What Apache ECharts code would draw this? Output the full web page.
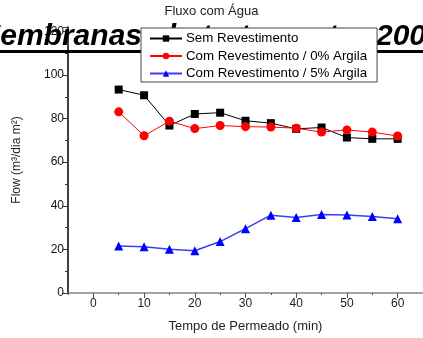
<!DOCTYPE html>
<html><head><meta charset="utf-8">
<script src="https://cdn.jsdelivr.net/npm/echarts@6/dist/echarts.min.js"></script>
<style>html,body{margin:0;padding:0;background:#fff}#c{width:423px;height:338px}</style>
</head><body><div id="c"></div>
<script>
const times = [5, 10, 15, 20, 25, 30, 35, 40, 45, 50, 55, 60];
const semRevestimento = [93.3, 90.7, 76.8, 82.1, 82.7, 79.0, 77.9, 75.3, 75.9, 71.3, 70.7, 70.7];
const comRev0 = [83.1, 72.1, 78.8, 75.4, 76.8, 76.3, 76.1, 75.6, 73.8, 74.8, 73.8, 72.0];
const comRev5 = [21.5, 21.2, 20.1, 19.4, 23.6, 29.5, 35.7, 34.6, 36.0, 35.8, 35.1, 34.0];
const xMajorTicks = [0, 10, 20, 30, 40, 50, 60];
const xMinorTicks = [-5, 5, 15, 25, 35, 45, 55, 65];
const seriesNames = ['Sem Revestimento', 'Com Revestimento / 0% Argila', 'Com Revestimento / 5% Argila'];

const font = 'Liberation Sans, Arial, sans-serif';
const bigFont = 'italic bold 30px Liberation Sans, Arial';
const pair = (arr) => times.map((t, i) => [t, arr[i]]);
const chart = echarts.init(document.getElementById('c'));
chart.setOption({
  animation: false,
  textStyle: { fontFamily: font },
  title: { text: 'Fluxo com Água', left: 'center', top: 5, textStyle: { fontSize: 13, fontWeight: 'normal', color: '#222', fontFamily: font }, padding: 0, itemGap: 0 },
  graphic: [
    { type: 'text', z: 3, x: 142, y: 37, style: { text: 'Membranas', align: 'right', verticalAlign: 'middle', font: bigFont, fill: '#000' } },
    { type: 'text', z: 3, x: 257, y: 37, style: { text: 'de tratamento', align: 'center', verticalAlign: 'middle', font: bigFont, fill: '#000' } },
    { type: 'text', z: 3, x: 376, y: 37, style: { text: '2008', align: 'left', verticalAlign: 'middle', font: bigFont, fill: '#000' } },
    { type: 'rect', z: 3, shape: { x: 0, y: 50, width: 423, height: 3 }, style: { fill: '#000' } }
  ],
  legend: {
    z: 10,
    left: 141, top: 28,
    orient: 'vertical',
    backgroundColor: '#fff',
    borderColor: '#444', borderWidth: 1, borderRadius: 0,
    padding: [4, 10, 2, 8],
    itemGap: 4.5,
    itemWidth: 32, itemHeight: 8,
    textStyle: { fontSize: 13.3, color: '#000', fontFamily: font, padding: [0, 0, 0, -1] },
    data: seriesNames
  },
  grid: { left: 68, top: 27, width: 358, bottom: 42 },
  xAxis: [{
    type: 'value', min: -5, max: 65,
    name: 'Tempo de Permeado (min)', nameLocation: 'middle', nameGap: 27,
    nameTextStyle: { fontSize: 13, color: '#222', fontFamily: font },
    axisLine: { onZero: false, lineStyle: { color: '#888', width: 1.5 } },
    axisTick: { customValues: xMajorTicks, length: 5, lineStyle: { color: '#555' } },
    axisLabel: { customValues: xMajorTicks, fontSize: 12, color: '#222', margin: 5, fontFamily: font },
    splitLine: { show: false }
  }, {
    type: 'value', min: -5, max: 65, position: 'bottom',
    axisLine: { show: false, onZero: false },
    axisTick: { customValues: xMinorTicks, length: 2, lineStyle: { color: '#555' } },
    axisLabel: { show: false },
    splitLine: { show: false }
  }],
  yAxis: {
    type: 'value', min: 0, max: 122, interval: 20,
    name: 'Flow (m³/dia m²)', nameLocation: 'middle', nameGap: 45, nameRotate: 90,
    nameTextStyle: { fontSize: 12, color: '#222', fontFamily: font },
    axisLine: { show: true, onZero: false, lineStyle: { color: '#000', width: 1.5 } },
    axisTick: { show: true, length: 5, lineStyle: { color: '#333' } },
    minorTick: { show: true, splitNumber: 2, length: 3, lineStyle: { color: '#333' } },
    axisLabel: { fontSize: 12, color: '#111', margin: 4, fontFamily: font },
    splitLine: { show: false }
  },
  series: [
    { name: seriesNames[0], type: 'line', data: pair(semRevestimento), symbol: 'rect', symbolSize: 8,
      itemStyle: { color: '#000' }, lineStyle: { color: '#000', width: 1 } },
    { name: seriesNames[1], type: 'line', data: pair(comRev0), symbol: 'circle', symbolSize: 9,
      itemStyle: { color: '#f00' }, lineStyle: { color: '#f00', width: 1 } },
    { name: seriesNames[2], type: 'line', data: pair(comRev5), symbol: 'triangle', symbolSize: 9,
      itemStyle: { color: '#00f' }, lineStyle: { color: '#3a3aff', width: 1.5 } }
  ]
});
</script></body></html>
